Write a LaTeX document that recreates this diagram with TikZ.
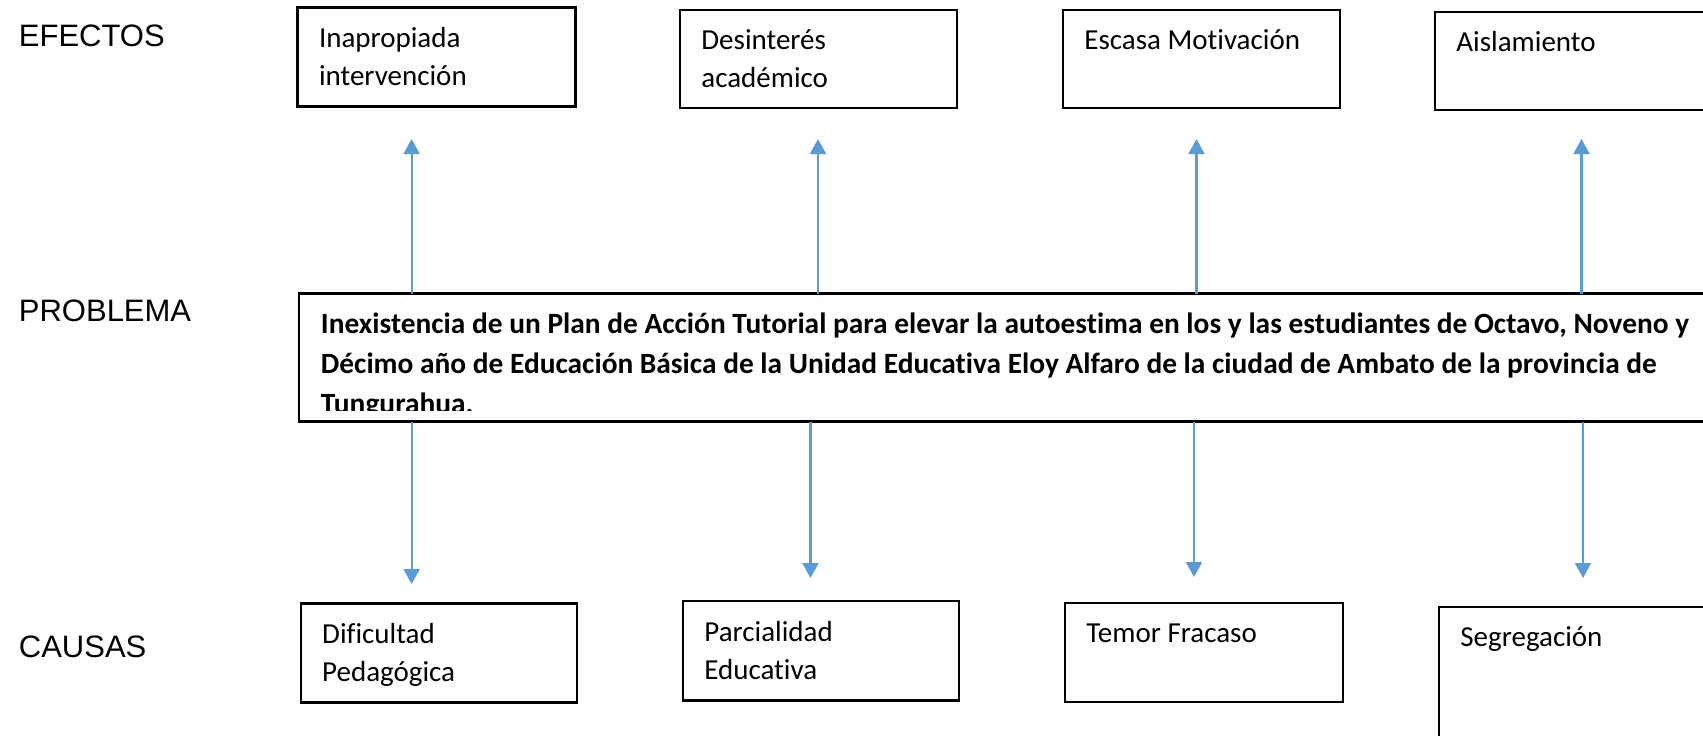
\documentclass[tikz,border=0pt]{standalone}
\usepackage{fontspec}
\setmainfont{Liberation Sans}
\newfontfamily\calib[Ligatures=NoCommon]{Carlito}
\usetikzlibrary{arrows.meta}
\definecolor{arrblue}{RGB}{91,155,213}
\begin{document}
\begin{tikzpicture}[x=0.5pt,y=-0.5pt,
  box/.style={draw=black,line width=1.2pt,anchor=north west,inner sep=0pt,outer sep=0pt},
  txt/.style={anchor=base west,inner sep=0pt,font=\calib\fontsize{14.5pt}{19pt}\selectfont,align=left},
  ptxt/.style={anchor=base west,inner sep=0pt,font=\calib\bfseries\fontsize{14.7pt}{20pt}\selectfont,align=left},
  lab/.style={anchor=west,inner sep=0pt,font=\fontsize{15.5pt}{18pt}\selectfont},
  arr/.style={draw=arrblue,line width=1.1pt,-{Triangle[length=7.5pt,width=8pt]}}]
\useasboundingbox (0,0) rectangle (1703,735);
\clip (0,0) rectangle (1703,735);
\fill[white] (0,0) rectangle (1703,735);

% row labels
\node[lab] (lefe) at (18.5,36) {EFECTOS};
\node[lab] (lpro) at (18.5,311) {PROBLEMA};
\node[lab] (lcau) at (18.5,647) {CAUSAS};

% effects (base anchor = baseline of the last line)
\node[box,minimum width=139pt,minimum height=49.5pt] (e1) at (297.6,7.6) {};
\node[box,minimum width=138.5pt,minimum height=49pt] (e2) at (680,10) {};
\node[box,minimum width=138.5pt,minimum height=49pt] (e3) at (1063,10) {};
\node[box,minimum width=150pt,minimum height=49pt] (e4) at (1435,12) {};
\node[txt] (te1) at (318.6,85) {Inapropiada\\intervención};
\node[txt] (te2) at (701,87.5) {Desinterés\\académico};
\node[txt] (te3) at (1084,49) {Escasa Motivación};
\node[txt] (te4) at (1456,51) {Aislamiento};

% problem
\node[box,minimum width=725pt,minimum height=64pt] (p) at (299,293.5) {};
\begin{scope}
\clip (299,293.5) rectangle (1760,410);
\node[ptxt] (tp) at (320.5,413) {Inexistencia de un Plan de Acción Tutorial para elevar la autoestima en los y las estudiantes de Octavo, Noveno y\\Décimo año de Educación Básica de la Unidad Educativa Eloy Alfaro de la ciudad de Ambato de la provincia de\\Tungurahua.};
\end{scope}

% causes
\node[box,minimum width=138pt,minimum height=49.5pt] (c1) at (300.8,603.5) {};
\node[box,minimum width=138pt,minimum height=49.75pt] (c2) at (683,601) {};
\node[box,minimum width=139pt,minimum height=49.5pt] (c3) at (1065,603) {};
\node[box,minimum width=150pt,minimum height=100pt] (c4) at (1439,607) {};
\node[txt] (tc1) at (321.8,681.5) {Dificultad\\Pedagógica};
\node[txt] (tc2) at (704,679) {Parcialidad\\Educativa};
\node[txt] (tc3) at (1086,642) {Temor Fracaso};
\node[txt] (tc4) at (1460,646) {Segregación};

% arrow tips
\coordinate (u1) at (411.6,139);
\coordinate (u2) at (818,139);
\coordinate (u3) at (1196.5,139);
\coordinate (u4) at (1581.5,139);
\coordinate (d1) at (411.6,584);
\coordinate (d2) at (810.5,578);
\coordinate (d3) at (1194,577);
\coordinate (d4) at (1583,578);

\draw[arr] (p.north -| u1) -- (u1);
\draw[arr] (p.north -| u2) -- (u2);
\draw[arr] (p.north -| u3) -- (u3);
\draw[arr] (p.north -| u4) -- (u4);
\draw[arr] (p.south -| d1) -- (d1);
\draw[arr] (p.south -| d2) -- (d2);
\draw[arr] (p.south -| d3) -- (d3);
\draw[arr] (p.south -| d4) -- (d4);
\end{tikzpicture}
\end{document}
